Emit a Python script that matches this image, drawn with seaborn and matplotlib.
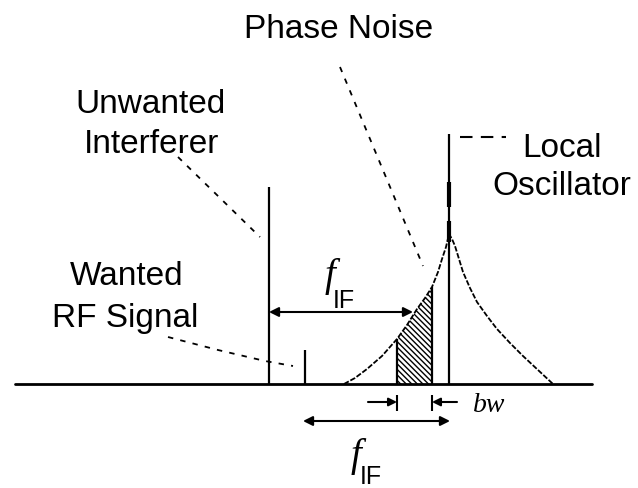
import matplotlib.pyplot as plt
import seaborn as sns
import pandas as pd
from matplotlib import font_manager

# spectrum data (x = frequency in picture units, y = level above the baseline)
tone_names = ["Unwanted Interferer", "Wanted RF Signal", "Local Oscillator"]
tone_freq = [269, 305, 449]
tone_level = [197, 34, 250]

# phase noise skirt around the LO
pn_freq = [344, 355, 367, 382, 397, 407, 417, 425, 432, 438, 442, 446, 449,
           452, 455, 459, 463, 470, 477, 487, 497, 510, 523, 538, 553]
pn_level = [0, 6, 15, 28, 45, 59, 75, 86, 97, 112, 125, 137, 150,
            145, 138, 125, 112, 96, 82, 68, 55, 41, 28, 14, 0]

# band that falls into the IF filter (bw)
bw_edges = [397, 432]

# f_IF spans
fif_top = [269, 413]
fif_bottom = [303, 450]

sns.set_theme(style="white")
names = {f.name for f in font_manager.fontManager.ttflist}
if "Liberation Sans Narrow" in names:
    fam, fs = "Liberation Sans Narrow", 29
else:
    fam, fs = "Liberation Sans", 24
plt.rcParams["font.family"] = [fam, "DejaVu Sans"]
plt.rcParams["hatch.linewidth"] = 1.0

fig = plt.figure(figsize=(6.38, 4.89), dpi=100)
ax = fig.add_axes([0, 0, 1, 1])
ax.set_xlim(0, 638)
ax.set_ylim(-104, 385)
ax.axis("off")

BASE = 385  # pixel row of the baseline, used only to place labels
def lv(py):
    return BASE - py

# baseline
ax.plot([15, 592], [0, 0], color="black", lw=2)

# tones
ax.vlines(tone_freq, 0, tone_level, color="black", lw=1.6)
# heavy bits on LO line
ax.vlines([tone_freq[2], tone_freq[2]], [142, 177], [163, 202], color="black", lw=3)

# phase noise curve
df_pn = pd.DataFrame({"f": pn_freq, "level": pn_level})
sns.lineplot(data=df_pn, x="f", y="level", sort=False, color="black", lw=1.3,
             linestyle=(0, (3, 1)), ax=ax)
if ax.get_legend():
    ax.get_legend().remove()

# hatched part inside bw
sub = df_pn[(df_pn["f"] >= bw_edges[0]) & (df_pn["f"] <= bw_edges[1])]
ax.fill_between(sub["f"], 0, sub["level"], facecolor="white", edgecolor="black",
                hatch="\\\\\\\\\\\\", lw=0)
ax.vlines(bw_edges, 0, [sub["level"].iloc[0], sub["level"].iloc[-1]], color="black", lw=1.6)

# leader lines
dash = dict(color="black", lw=1.3, linestyle=(0, (3, 4)))
ax.plot([340, 423], [lv(68), lv(267)], **dash)
ax.plot([178, 260], [lv(158), lv(238)], **dash)
ax.plot([168, 218, 265, 293], [lv(338), lv(351), lv(362), lv(367)], **dash)
ax.plot([460, 506], [lv(138), lv(138)], color="black", lw=1.5, linestyle=(0, (6, 4)))

# f_IF arrows
arr = dict(arrowstyle="<|-|>", color="black", lw=1.5, mutation_scale=14,
           shrinkA=0, shrinkB=0)
ax.annotate("", xy=(fif_top[0], lv(313)), xytext=(fif_top[1], lv(313)), arrowprops=arr)
ax.annotate("", xy=(fif_bottom[0], lv(422)), xytext=(fif_bottom[1], lv(422)), arrowprops=arr)

# bw arrows
one = dict(arrowstyle="-|>", color="black", lw=1.5, mutation_scale=12,
           shrinkA=0, shrinkB=0)
ax.annotate("", xy=(bw_edges[0], lv(403)), xytext=(368, lv(403)), arrowprops=one)
ax.annotate("", xy=(bw_edges[1], lv(403)), xytext=(457, lv(403)), arrowprops=one)
ax.vlines(bw_edges, lv(412), lv(396), color="black", lw=1.5)

# labels
lab = dict(ha="center", va="baseline", fontsize=fs, color="black")
ax.text(339, lv(38), "Phase Noise", **lab)
ax.text(150, lv(113), "Unwanted", **lab)
ax.text(152, lv(153), "Interferer", **lab)
ax.text(127, lv(285), "Wanted", **lab)
ax.text(125, lv(327), "RF Signal", **lab)
ax.text(562, lv(157), "Local", **lab)
ax.text(562, lv(195), "Oscillator", **lab)

ital = dict(family=["Liberation Serif", "DejaVu Serif"], style="italic", color="black")
ax.text(330, lv(286), "f", ha="center", va="baseline", fontsize=28, **ital)
ax.text(333, lv(308), "IF", ha="left", va="baseline", fontsize=18, color="black",
        family=["Liberation Sans", "DejaVu Sans"])
ax.text(356, lv(466), "f", ha="center", va="baseline", fontsize=28, **ital)
ax.text(360, lv(484), "IF", ha="left", va="baseline", fontsize=18, color="black",
        family=["Liberation Sans", "DejaVu Sans"])
ax.text(473, lv(412), "bw", ha="left", va="baseline", fontsize=20, **ital)

fig.savefig("out.png", dpi=100)
